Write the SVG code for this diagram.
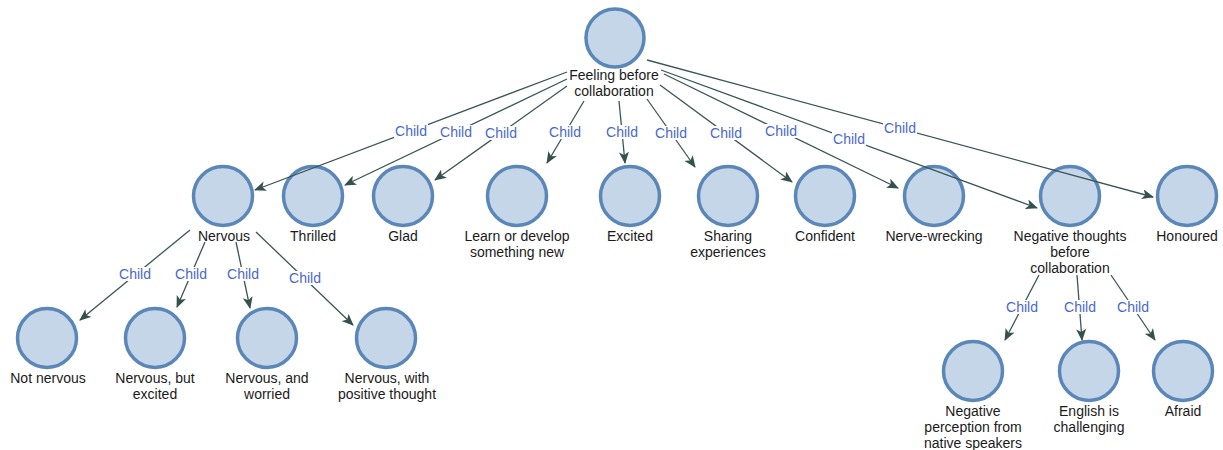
<svg xmlns="http://www.w3.org/2000/svg" width="1223" height="450" viewBox="0 0 1223 450">
<defs>
<marker id="arr" viewBox="0 0 12 10" refX="11" refY="5" markerWidth="12" markerHeight="10" markerUnits="userSpaceOnUse" orient="auto">
<path d="M0,0 L12,5 L0,10 L3,5 z" fill="#35514f"/>
</marker>
<style>
.n circle{fill:#c5d6e9;stroke:#5a87b8;stroke-width:3.5}
.n text{font-family:"Liberation Sans",Arial,sans-serif;font-size:14px;fill:#1a1a1a;text-anchor:middle}
.e line{stroke:#3a5655;stroke-width:1.3;marker-end:url(#arr)}
.e rect{fill:#ffffff}
.e text{font-family:"Liberation Sans",Arial,sans-serif;font-size:14px;fill:#4a68c8;text-anchor:middle}
</style>
</defs>
<rect width="1223" height="450" fill="#ffffff"/>
<g id="root" class="n"><circle cx="615" cy="38" r="29"/><text x="614" y="80">Feeling before</text><text x="614" y="96">collaboration</text></g>
<g id="nervous" class="n"><circle cx="223" cy="196" r="29.5"/><text x="224" y="241">Nervous</text></g>
<g id="thrilled" class="n"><circle cx="313" cy="196" r="29.5"/><text x="313" y="241">Thrilled</text></g>
<g id="glad" class="n"><circle cx="403" cy="196" r="29.5"/><text x="403" y="241">Glad</text></g>
<g id="learn" class="n"><circle cx="517" cy="196" r="29.5"/><text x="517" y="241">Learn or develop</text><text x="517" y="257">something new</text></g>
<g id="excited" class="n"><circle cx="630" cy="196" r="29.5"/><text x="630" y="241">Excited</text></g>
<g id="sharing" class="n"><circle cx="728" cy="196" r="29.5"/><text x="728" y="241">Sharing</text><text x="728" y="257">experiences</text></g>
<g id="confident" class="n"><circle cx="825" cy="196" r="29.5"/><text x="825" y="241">Confident</text></g>
<g id="nerve-wrecking" class="n"><circle cx="934" cy="196" r="29.5"/><text x="934" y="241">Nerve-wrecking</text></g>
<g id="negative-thoughts" class="n"><circle cx="1070" cy="196" r="29.5"/><text x="1070" y="241">Negative thoughts</text><text x="1070" y="257">before</text><text x="1070" y="273">collaboration</text></g>
<g id="honoured" class="n"><circle cx="1187" cy="196" r="29.5"/><text x="1187" y="241">Honoured</text></g>
<g id="not-nervous" class="n"><circle cx="47" cy="338" r="29.5"/><text x="48" y="383">Not nervous</text></g>
<g id="nervous-but-excited" class="n"><circle cx="155" cy="338" r="29.5"/><text x="155" y="383">Nervous, but</text><text x="155" y="399">excited</text></g>
<g id="nervous-and-worried" class="n"><circle cx="267" cy="338" r="29.5"/><text x="267" y="383">Nervous, and</text><text x="267" y="399">worried</text></g>
<g id="nervous-positive" class="n"><circle cx="386" cy="338" r="29.5"/><text x="387" y="383">Nervous, with</text><text x="387" y="399">positive thought</text></g>
<g id="negative-perception" class="n"><circle cx="973" cy="371" r="29.5"/><text x="973" y="416">Negative</text><text x="973" y="432">perception from</text><text x="973" y="448">native speakers</text></g>
<g id="english-challenging" class="n"><circle cx="1089" cy="371" r="29.5"/><text x="1089" y="416">English is</text><text x="1089" y="432">challenging</text></g>
<g id="afraid" class="n"><circle cx="1183" cy="371" r="29.5"/><text x="1183" y="416">Afraid</text></g>
<g id="connectors" class="e">
<line x1="567" y1="72" x2="255" y2="190"/>
<line x1="567" y1="79" x2="345" y2="185"/>
<line x1="567" y1="86" x2="435" y2="180"/>
<line x1="584" y1="101" x2="547" y2="163"/>
<line x1="619" y1="101" x2="625" y2="163"/>
<line x1="647" y1="99" x2="695" y2="167"/>
<line x1="660" y1="85" x2="792" y2="182"/>
<line x1="664" y1="74" x2="898" y2="188"/>
<line x1="661" y1="70" x2="1037" y2="208"/>
<line x1="647" y1="60" x2="1153" y2="197"/>
<line x1="190" y1="230" x2="80" y2="320"/>
<line x1="205" y1="242" x2="177" y2="307"/>
<line x1="236" y1="242" x2="250" y2="308"/>
<line x1="256" y1="232" x2="353" y2="325"/>
<line x1="1039" y1="275" x2="1005" y2="340"/>
<line x1="1077" y1="275" x2="1082" y2="340"/>
<line x1="1111" y1="275" x2="1155" y2="340"/>
<rect x="394" y="124" width="34" height="14"/><text x="411" y="136">Child</text>
<rect x="439" y="125" width="34" height="14"/><text x="456" y="137">Child</text>
<rect x="484" y="126" width="34" height="14"/><text x="501" y="138">Child</text>
<rect x="548" y="125" width="34" height="14"/><text x="565" y="137">Child</text>
<rect x="605" y="125" width="34" height="14"/><text x="622" y="137">Child</text>
<rect x="654" y="126" width="34" height="14"/><text x="671" y="138">Child</text>
<rect x="709" y="126" width="34" height="14"/><text x="726" y="138">Child</text>
<rect x="764" y="124" width="34" height="14"/><text x="781" y="136">Child</text>
<rect x="832" y="132" width="34" height="14"/><text x="849" y="144">Child</text>
<rect x="883" y="121" width="34" height="14"/><text x="900" y="133">Child</text>
<rect x="118" y="267" width="34" height="14"/><text x="135" y="279">Child</text>
<rect x="174" y="267" width="34" height="14"/><text x="191" y="279">Child</text>
<rect x="226" y="267" width="34" height="14"/><text x="243" y="279">Child</text>
<rect x="288" y="271" width="34" height="14"/><text x="305" y="283">Child</text>
<rect x="1005" y="300" width="34" height="14"/><text x="1022" y="312">Child</text>
<rect x="1063" y="300" width="34" height="14"/><text x="1080" y="312">Child</text>
<rect x="1116" y="300" width="34" height="14"/><text x="1133" y="312">Child</text>
</g>
</svg>
